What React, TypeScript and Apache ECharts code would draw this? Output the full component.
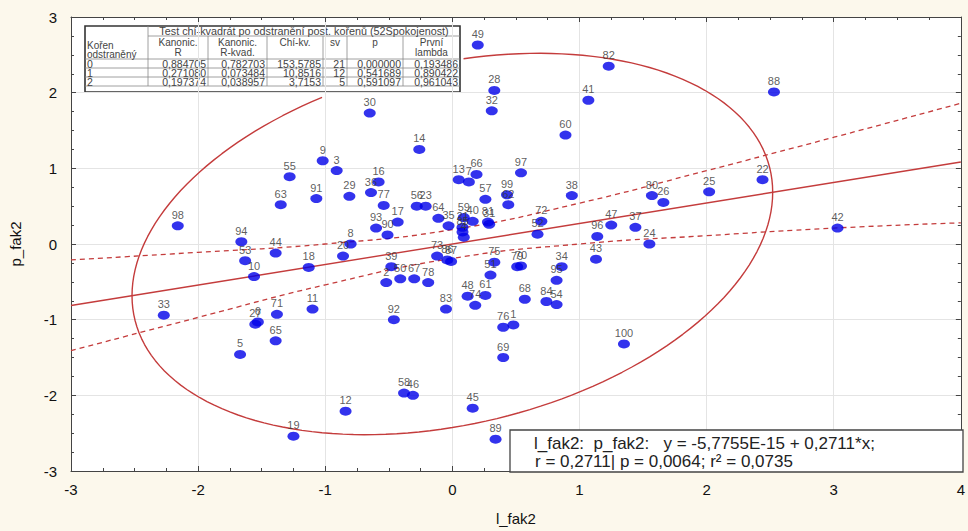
import React, { useEffect, useRef } from "react";
import * as echarts from "echarts";

// ---------- data ----------
const POINT_LABELS = [
  "49", "82", "28", "88", "32", "41", "30", "60", "14", "9", "3", "55", "16", "13", "7", "66", "97",
  "91", "29", "36", "77", "56", "23", "57", "99", "62", "38", "80", "26", "25", "22", "63", "98",
  "94", "44", "53", "10", "18", "20", "8", "93", "90", "17", "64", "35", "59", "21", "85", "4",
  "40", "81", "31", "72", "52", "47", "37", "96", "24", "43", "42", "73", "86", "87", "75", "51",
  "79", "70", "34", "95", "39", "2", "50", "67", "78", "48", "61", "74", "83", "92", "11", "68",
  "84", "54", "76", "1", "69", "100", "33", "71", "27", "6", "65", "5", "58", "46", "12", "45",
  "89", "19",
];
const POINT_X = [
  0.2, 1.23, 0.33, 2.53, 0.31, 1.07, -0.65, 0.89, -0.26, -1.02, -0.91, -1.28, -0.58, 0.05, 0.13, 0.19, 0.54,
  -1.07, -0.81, -0.64, -0.54, -0.28, -0.21, 0.26, 0.43, 0.44, 0.94, 1.57, 1.66, 2.02, 2.44, -1.35, -2.16,
  -1.66, -1.39, -1.63, -1.56, -1.13, -0.86, -0.8, -0.6, -0.51, -0.43, -0.11, -0.03, 0.09, 0.08, 0.08, 0.09,
  0.16, 0.28, 0.29, 0.7, 0.67, 1.25, 1.44, 1.14, 1.55, 1.13, 3.03, -0.12, -0.04, -0.01, 0.33, 0.3,
  0.51, 0.54, 0.86, 0.82, -0.48, -0.52, -0.41, -0.3, -0.19, 0.12, 0.26, 0.18, -0.05, -0.46, -1.1, 0.57,
  0.74, 0.82, 0.4, 0.48, 0.4, 1.35, -2.27, -1.38, -1.55, -1.53, -1.39, -1.67, -0.38, -0.31, -0.84, 0.16,
  0.34, -1.25,
];
const POINT_Y = [
  2.63, 2.35, 2.03, 2.01, 1.76, 1.9, 1.73, 1.44, 1.25, 1.1, 0.97, 0.89, 0.82, 0.85, 0.82, 0.92, 0.94,
  0.6, 0.63, 0.68, 0.51, 0.5, 0.5, 0.59, 0.65, 0.52, 0.64, 0.64, 0.55, 0.69, 0.85, 0.52, 0.24,
  0.03, -0.12, -0.22, -0.43, -0.31, -0.16, 0.0, 0.21, 0.12, 0.29, 0.34, 0.24, 0.35, 0.22, 0.16, 0.09,
  0.3, 0.29, 0.26, 0.3, 0.13, 0.25, 0.22, 0.1, 0.0, -0.2, 0.21, -0.16, -0.21, -0.23, -0.24, -0.41,
  -0.3, -0.29, -0.3, -0.48, -0.3, -0.51, -0.46, -0.46, -0.51, -0.69, -0.68, -0.81, -0.86, -1.0, -0.86, -0.73,
  -0.76, -0.8, -1.1, -1.07, -1.5, -1.32, -0.94, -0.93, -1.06, -1.03, -1.28, -1.46, -1.97, -2.0, -2.21, -2.17,
  -2.58, -2.54,
];

// regression y = a + b*x
const REG_INTERCEPT = -5.7755e-15;
const REG_SLOPE = 0.2711;
const REG_X = [-3, 4];

// 95% confidence band
const BAND_X = [-3, -2, -1, 0, 1, 2, 3, 4];
const BAND_UPPER = [-0.21, -0.11, 0.0, 0.19, 0.54, 0.97, 1.41, 1.86];
const BAND_LOWER = [-1.41, -0.97, -0.54, -0.19, 0.0, 0.11, 0.21, 0.28];

// correlation ellipse (radius in SD units, correlation, drawn arc in degrees)
const ELLIPSE_RADIUS = 2.52;
const ELLIPSE_CORR = 0.2711;
const ELLIPSE_START_DEG = 114;
const ELLIPSE_END_DEG = 448;

// axes
const X_MIN = -3, X_MAX = 4, Y_MIN = -3, Y_MAX = 3;

// table
const TABLE_TITLE = "Test chí-kvadrát po odstranění post. kořenů (52Spokojenost)";
const TABLE_FIRST_HEADER = ["Kořen", "odstraněný"];
const TABLE_HEADERS = [["Kanonic.", "R"], ["Kanonic.", "R-kvad."], ["Chí-kv."], ["sv"], ["p"], ["První", "lambda"]];
const TABLE_ROWS = [
  ["0", "0,884705", "0,782703", "153,5785", "21", "0,000000", "0,193486"],
  ["1", "0,271080", "0,073484", "10,8516", "12", "0,541689", "0,890422"],
  ["2", "0,197374", "0,038957", "3,7153", "5", "0,591097", "0,961043"],
];

const STAT_LINE1 = "l_fak2:  p_fak2:   y = -5,7755E-15 + 0,2711*x;";
const STAT_LINE2 = "r = 0,2711| p = 0,0064; r² = 0,0735";

const FONT = '"Liberation Sans", Arial, sans-serif';
const RED = "#c43c3c";

export default function App() {
  const ref = useRef<HTMLDivElement>(null);

  useEffect(() => {
    document.body.style.margin = "0";
    const chart = echarts.init(ref.current!, null, { renderer: "svg" });

    const points = POINT_X.map((x, i) => ({ value: [x, POINT_Y[i]], name: POINT_LABELS[i] }));
    const regLine = REG_X.map((x) => [x, REG_INTERCEPT + REG_SLOPE * x]);
    const upper = BAND_X.map((x, i) => [x, BAND_UPPER[i]]);
    const lower = BAND_X.map((x, i) => [x, BAND_LOWER[i]]);
    const ellipse: number[][] = [];
    const s = Math.sqrt(1 - ELLIPSE_CORR * ELLIPSE_CORR);
    for (let d = ELLIPSE_START_DEG; d <= ELLIPSE_END_DEG; d += 2) {
      const t = (d * Math.PI) / 180;
      ellipse.push([
        ELLIPSE_RADIUS * Math.cos(t),
        ELLIPSE_RADIUS * (ELLIPSE_CORR * Math.cos(t) + s * Math.sin(t)),
      ]);
    }

    // table graphics
    const cols = [85, 148, 208, 267, 323, 347, 403, 460];
    const TOP = 26, TITLE_B = 36, HEAD_B = 59, ROW_H = 9;
    const tableEls: any[] = [];
    tableEls.push({
      type: "rect",
      shape: { x: 85, y: TOP, width: 375, height: 66 },
      style: { fill: "#fff", stroke: "#333", lineWidth: 1.6 },
    });
    const ln = (x1: number, y1: number, x2: number, y2: number) =>
      tableEls.push({ type: "line", shape: { x1, y1, x2, y2 }, style: { stroke: "#888", lineWidth: 0.8 } });
    const lastRowB = HEAD_B + ROW_H * TABLE_ROWS.length;
    ln(148, TITLE_B, 460, TITLE_B);
    for (let r = 0; r <= TABLE_ROWS.length; r++) ln(85, HEAD_B + r * ROW_H, 460, HEAD_B + r * ROW_H);
    ln(148, TOP, 148, lastRowB);
    for (let c = 2; c < cols.length - 1; c++) ln(cols[c], TITLE_B, cols[c], lastRowB);
    const txt = (text: string, x: number, y: number, align: string, size = 9.5) =>
      tableEls.push({
        type: "text",
        style: {
          text, x, y, fill: "#444", font: `${size}px ${FONT}`,
          align, verticalAlign: "middle", textAlign: align, textVerticalAlign: "middle",
        },
      });
    txt(TABLE_TITLE, 304, 31, "center", 10.8);
    txt(TABLE_FIRST_HEADER[0], 87, 45, "left", 10);
    txt(TABLE_FIRST_HEADER[1], 87, 54, "left", 10);
    TABLE_HEADERS.forEach((h, i) => {
      const cx = (cols[i + 1] + cols[i + 2]) / 2;
      h.forEach((line, j) => txt(line, cx, 42 + j * 10, "center", 10));
    });
    TABLE_ROWS.forEach((row, r) => {
      const y = HEAD_B + r * ROW_H + ROW_H / 2 + 0.5;
      row.forEach((v, c) => {
        if (c === 0) txt(v, 87, y, "left", 10.5);
        else txt(v, cols[c + 1] - 2, y, "right", 10.5);
      });
    });

    const axisCommon = {
      type: "value" as const,
      interval: 1,
      axisLine: { show: true, onZero: false, lineStyle: { color: "#444", width: 1 } },
      axisTick: { show: true, inside: true, length: 5, lineStyle: { color: "#444" } },
      minorTick: { show: true, splitNumber: 4, length: 3, lineStyle: { color: "#444" } },
    };

    chart.setOption({
      animation: false,
      backgroundColor: "#fcf8ec",
      grid: { left: 70, right: 1, top: 17, bottom: 54, show: true, backgroundColor: "#fff", borderWidth: 0 },
      xAxis: [
        {
          ...axisCommon,
          min: X_MIN, max: X_MAX, position: "bottom",
          axisLabel: { color: "#111", fontSize: 15, fontFamily: FONT, margin: 11 },
          splitLine: { show: true, lineStyle: { color: "#e4e4e4", width: 1 } },
          name: "l_fak2", nameLocation: "middle", nameGap: 40,
          nameTextStyle: { color: "#111", fontSize: 15, fontFamily: FONT },
        },
        {
          ...axisCommon,
          min: X_MIN, max: X_MAX, position: "top",
          axisLabel: { show: false }, splitLine: { show: false },
        },
      ],
      yAxis: [
        {
          ...axisCommon,
          min: Y_MIN, max: Y_MAX, position: "left",
          axisLabel: { color: "#111", fontSize: 15, fontFamily: FONT, margin: 14 },
          splitLine: { show: true, lineStyle: { color: "#e4e4e4", width: 1 } },
          name: "p_fak2", nameLocation: "middle", nameGap: 48,
          nameTextStyle: { color: "#111", fontSize: 15, fontFamily: FONT },
        },
        {
          ...axisCommon,
          min: Y_MIN, max: Y_MAX, position: "right",
          axisLabel: { show: false }, splitLine: { show: false },
        },
      ],
      series: [
        {
          type: "line", data: ellipse, showSymbol: false, symbol: "none", smooth: false,
          lineStyle: { color: RED, width: 1.4 }, silent: true, z: 2,
        },
        {
          type: "line", data: regLine, showSymbol: false, symbol: "none",
          lineStyle: { color: RED, width: 1.4 }, silent: true, z: 2,
        },
        {
          type: "line", data: upper, showSymbol: false, symbol: "none", smooth: true,
          lineStyle: { color: RED, width: 1.3, type: [5, 4] }, silent: true, z: 2,
        },
        {
          type: "line", data: lower, showSymbol: false, symbol: "none", smooth: true,
          lineStyle: { color: RED, width: 1.3, type: [5, 4] }, silent: true, z: 2,
        },
        {
          type: "scatter", data: points, symbol: "circle", symbolSize: [12, 9],
          itemStyle: { color: "#0000e8" }, z: 3,
          label: {
            show: true, position: "top", distance: 1, formatter: "{b}",
            color: "#333", fontSize: 11, fontFamily: FONT,
          },
          labelLayout: { hideOverlap: false },
        },
      ],
      graphic: [
        ...tableEls,
        {
          type: "rect", z: 100,
          shape: { x: 510, y: 430, width: 453, height: 42 },
          style: { fill: "#fff", stroke: "#444", lineWidth: 1.3 },
        },
        {
          type: "text", z: 101,
          style: { text: STAT_LINE1, x: 534, y: 443, fill: "#222", font: `17px ${FONT}`, verticalAlign: "middle", textVerticalAlign: "middle" },
        },
        {
          type: "text", z: 101,
          style: { text: STAT_LINE2, x: 535, y: 461, fill: "#222", font: `17px ${FONT}`, verticalAlign: "middle", textVerticalAlign: "middle" },
        },
      ],
    });
    return () => chart.dispose();
  }, []);

  return (
    <div
      ref={ref}
      style={{ position: "absolute", left: 0, top: 0, width: 968, height: 531 }}
    />
  );
}
